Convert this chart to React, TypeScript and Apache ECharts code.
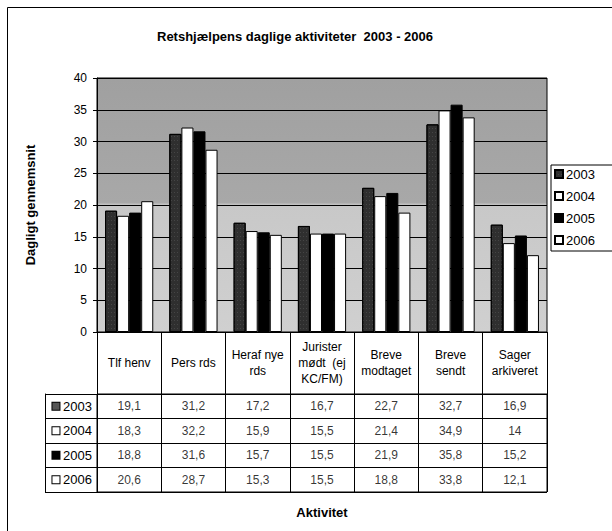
import React, { useEffect, useRef } from "react";
import * as echarts from "echarts";

const titleText = "Retshjælpens daglige aktiviteter  2003 - 2006";
const yAxisTitle = "Dagligt gennemsnit";
const xAxisTitle = "Aktivitet";
const categories = [
  "Tlf henv",
  "Pers rds",
  "Heraf nye\nrds",
  "Jurister\nmødt  (ej\nKC/FM)",
  "Breve\nmodtaget",
  "Breve\nsendt",
  "Sager\narkiveret",
];
const years = ["2003", "2004", "2005", "2006"];
const v2003 = [19.1, 31.2, 17.2, 16.7, 22.7, 32.7, 16.9];
const v2004 = [18.3, 32.2, 15.9, 15.5, 21.4, 34.9, 14];
const v2005 = [18.8, 31.6, 15.7, 15.5, 21.9, 35.8, 15.2];
const v2006 = [20.6, 28.7, 15.3, 15.5, 18.8, 33.8, 12.1];
const yTicks = { min: 0, max: 40, interval: 5 };

const FONT = "'Liberation Sans', Arial, sans-serif";

export default function App() {
  const ref = useRef<HTMLDivElement>(null);
  useEffect(() => {
    if (!ref.current) return;
    const chart = echarts.init(ref.current, null, { renderer: "svg" });
    const values = [v2003, v2004, v2005, v2006];
    const tableData: any[] = [];
    values.forEach((arr, r) =>
      arr.forEach((v, c) => tableData.push([c, r, v]))
    );
    const barStyles = [
      {
        color: "#2f2f2f",
        borderColor: "#000",
        borderWidth: 1,
        decal: {
          symbol: "rect",
          symbolSize: 0.6,
          color: "rgba(255,255,255,0.35)",
          dashArrayX: [1, 2],
          dashArrayY: [1, 3],
        },
      },
      { color: "#ffffff", borderColor: "#000", borderWidth: 1 },
      { color: "#000000", borderColor: "#000", borderWidth: 1 },
      { color: "#ffffff", borderColor: "#000", borderWidth: 1 },
    ];
    const option: any = {
      animation: false,
      textStyle: { fontFamily: FONT, color: "#000" },
      title: {
        text: titleText,
        left: 152,
        top: 25,
        textStyle: { fontFamily: FONT, fontSize: 13, fontWeight: "bold", color: "#000" },
      },
      legend: {
        data: years,
        orient: "vertical",
        left: 551,
        top: 165,
        padding: [2, 20, 4, 3],
        itemGap: 8,
        itemWidth: 8,
        itemHeight: 8,
        icon: "rect",
        borderColor: "#000",
        borderWidth: 1,
        textStyle: { fontFamily: FONT, fontSize: 13, color: "#000", lineHeight: 14, padding: [0, 0, 0, -2] },
      },
      graphic: [
        {
          type: "rect",
          shape: { x: 7.5, y: 7.5, width: 700, height: 700 },
          style: { fill: "none", stroke: "#000", lineWidth: 1 },
          silent: true,
          z: -10,
        },
      ],
      grid: [
        {
          left: 97,
          right: 65,
          top: 78,
          bottom: 199,
          show: true,
          borderColor: "#000",
          borderWidth: 1,
          backgroundColor: new echarts.graphic.LinearGradient(0, 0, 0, 1, [
            { offset: 0, color: "#a0a0a0" },
            { offset: 0.49, color: "#a8a8a8" },
            { offset: 0.5, color: "#c8c8c8" },
            { offset: 1, color: "#d0d0d0" },
          ]),
        },
        {
          left: 97,
          right: 65,
          top: 394,
          bottom: 39,
          show: true,
          borderColor: "#000",
          borderWidth: 1,
          backgroundColor: "transparent",
        },
      ],
      xAxis: [
        {
          type: "category",
          gridIndex: 0,
          data: categories,
          axisLine: { show: true, lineStyle: { color: "#000", width: 1 } },
          axisTick: { show: true, length: 62, interval: 0, lineStyle: { color: "#000" } },
          axisLabel: {
            interval: 0,
            margin: 31,
            verticalAlign: "middle",
            color: "#000",
            fontSize: 12,
            lineHeight: 16,
            fontFamily: FONT,
          },
          splitLine: { show: false },
        },
        {
          type: "category",
          gridIndex: 1,
          data: categories,
          position: "bottom",
          axisLine: { show: false },
          axisTick: { show: false },
          axisLabel: { show: false },
          splitLine: { show: true, interval: 0, lineStyle: { color: "#000", width: 1 } },
          name: xAxisTitle,
          nameLocation: "middle",
          nameGap: 14,
          nameTextStyle: { fontFamily: FONT, fontSize: 13, fontWeight: "bold", color: "#000" },
        },
      ],
      yAxis: [
        {
          type: "value",
          gridIndex: 0,
          min: yTicks.min,
          max: yTicks.max,
          interval: yTicks.interval,
          axisLine: { show: true, lineStyle: { color: "#000" } },
          axisTick: { show: true, length: 4, lineStyle: { color: "#000" } },
          axisLabel: { color: "#000", fontSize: 12, margin: 10, fontFamily: FONT },
          splitLine: { show: true, lineStyle: { color: "#000", width: 1 } },
          name: yAxisTitle,
          nameLocation: "middle",
          nameRotate: 90,
          nameGap: 60,
          nameTextStyle: { fontFamily: FONT, fontSize: 13, fontWeight: "bold", color: "#000" },
        },
        {
          type: "category",
          gridIndex: 1,
          data: years,
          inverse: true,
          axisLine: { show: true, lineStyle: { color: "#000" } },
          axisTick: { show: true, length: 52, interval: 0, alignWithLabel: false, lineStyle: { color: "#000" } },
          splitLine: { show: true, interval: 0, lineStyle: { color: "#000", width: 1 } },
          axisLabel: {
            margin: 5,
            color: "#000",
            fontSize: 13,
            fontFamily: FONT,
            formatter: (v: string) => `{b${v}|} ${v}`,
            rich: {
              b2003: { width: 7, height: 7, backgroundColor: "#555", borderColor: "#000", borderWidth: 1 },
              b2004: { width: 7, height: 7, backgroundColor: "#fff", borderColor: "#000", borderWidth: 1 },
              b2005: { width: 7, height: 7, backgroundColor: "#000", borderColor: "#000", borderWidth: 1 },
              b2006: { width: 7, height: 7, backgroundColor: "#fff", borderColor: "#000", borderWidth: 1 },
            },
          },
        },
        {
          type: "category",
          gridIndex: 1,
          data: years,
          position: "left",
          offset: 52,
          axisLine: { show: true, lineStyle: { color: "#000" } },
          axisTick: { show: false },
          axisLabel: { show: false },
          splitLine: { show: false },
        },
      ],
      series: [
        ...years.map((y, i) => ({
          name: y,
          type: "bar",
          xAxisIndex: 0,
          yAxisIndex: 0,
          data: values[i],
          barCategoryGap: "25%",
          barGap: "0%",
          itemStyle: barStyles[i],
        })),
        {
          name: "table",
          type: "scatter",
          xAxisIndex: 1,
          yAxisIndex: 1,
          data: tableData,
          symbolSize: 1,
          silent: true,
          itemStyle: { color: "rgba(0,0,0,0)" },
          label: {
            show: true,
            position: "inside",
            color: "#000",
            fontSize: 12,
            fontFamily: FONT,
            formatter: (p: any) => String(p.value[2]).replace(".", ","),
          },
        },
      ],
    };
    chart.setOption(option);
    return () => chart.dispose();
  }, []);
  return (
    <div
      ref={ref}
      style={{ position: "absolute", left: 0, top: 0, width: 612, height: 531, background: "#fff" }}
    />
  );
}
